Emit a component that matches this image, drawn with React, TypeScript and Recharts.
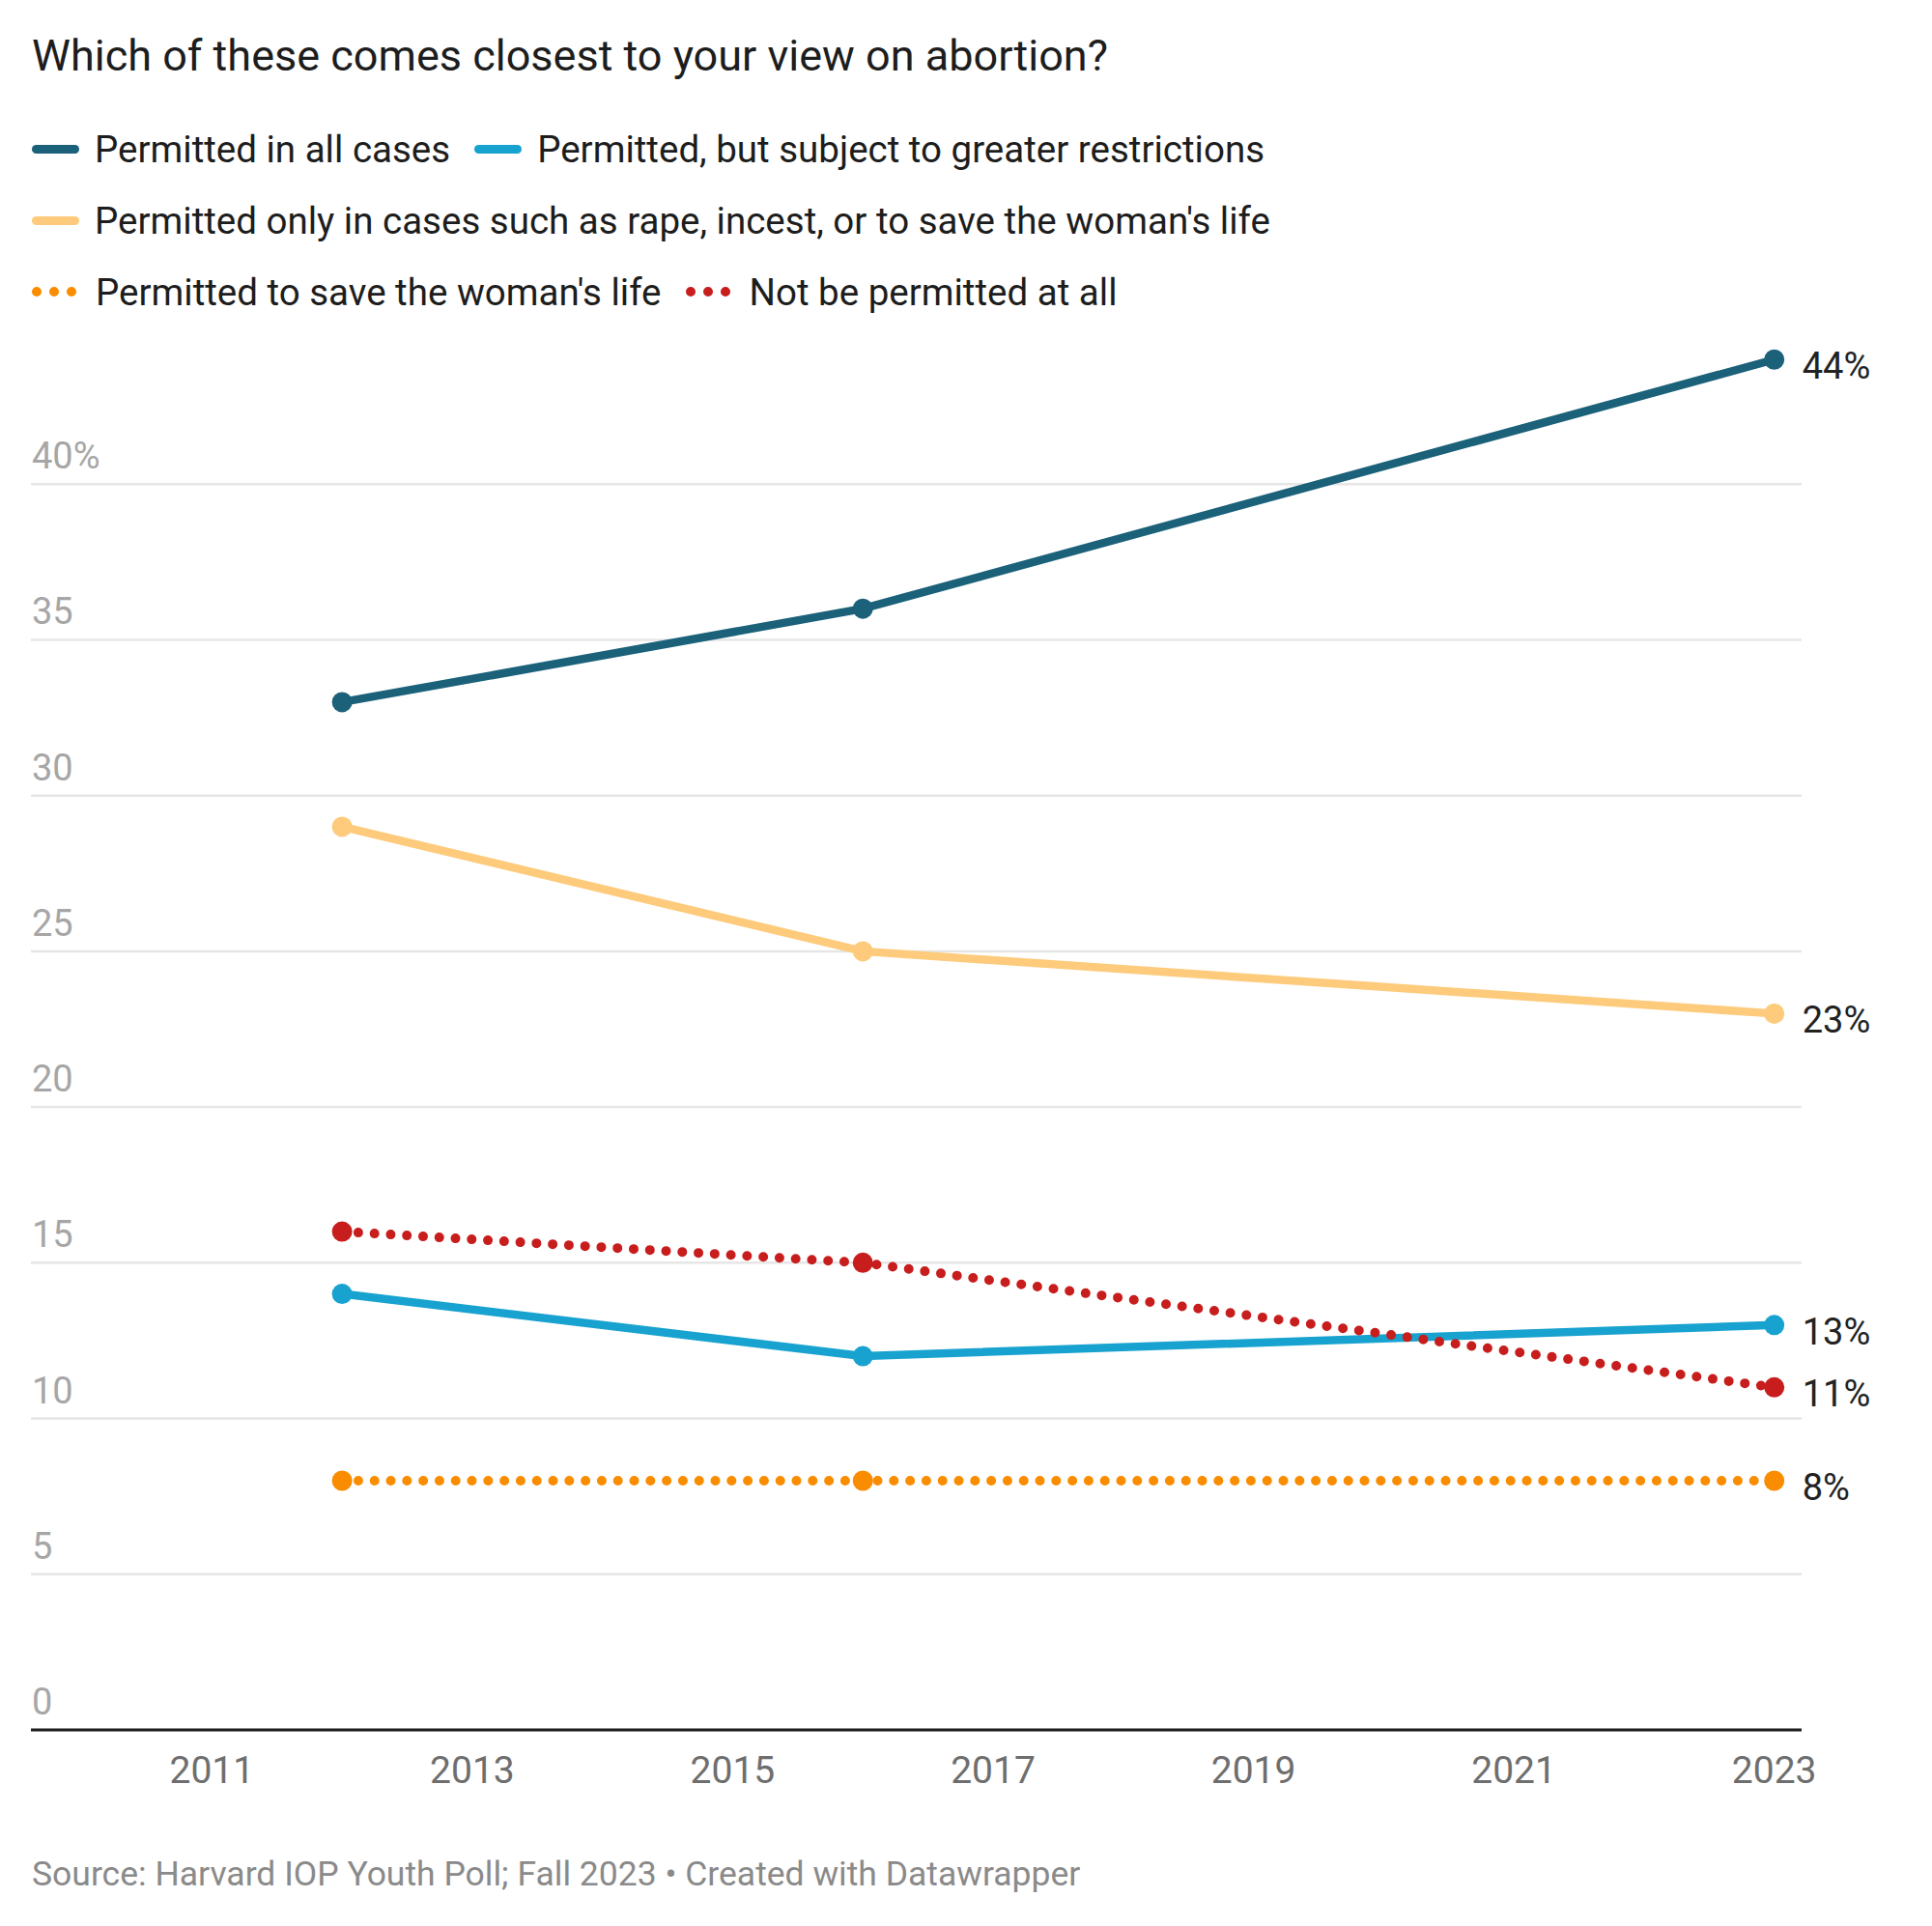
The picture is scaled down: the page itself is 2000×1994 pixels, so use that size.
import { LineChart, Line, XAxis, YAxis, CartesianGrid } from "recharts";

// Survey years and shares (%) per answer
const years = [2012, 2016, 2023];
const allCases = [33, 36, 44];
const greaterRestrictions = [14, 12, 13];
const rapeIncestLife = [29, 25, 23];
const saveLife = [8, 8, 8];
const notPermitted = [16, 15, 11];

const yTicks = [0, 5, 10, 15, 20, 25, 30, 35, 40];
const xTicks = [2011, 2013, 2015, 2017, 2019, 2021, 2023];

const series = [
  { key: "allCases", name: "Permitted in all cases", color: "#1a6179", values: allCases, dotted: false },
  { key: "greater", name: "Permitted, but subject to greater restrictions", color: "#18a2cf", values: greaterRestrictions, dotted: false },
  { key: "rape", name: "Permitted only in cases such as rape, incest, or to save the woman's life", color: "#fdcb7b", values: rapeIncestLife, dotted: false },
  { key: "saveLife", name: "Permitted to save the woman's life", color: "#fa8c00", values: saveLife, dotted: true },
  { key: "notAtAll", name: "Not be permitted at all", color: "#c71e1d", values: notPermitted, dotted: true },
];

const data = years.map((year, i) => {
  const row: any = { year };
  series.forEach((s) => (row[s.key] = s.values[i]));
  return row;
});

const legendRows = [
  [series[0], series[1]],
  [series[2]],
  [series[3], series[4]],
];

const FONT = "Roboto, 'Noto Sans', sans-serif";
const PLOT_LEFT = 31;

const renderYTick = (props: any) => {
  const { y, payload } = props;
  return (
    <text x={PLOT_LEFT + 2} y={y - 16} fill="#a6a6a6" fontSize={38} fontFamily={FONT} textAnchor="start">
      {payload.value === 40 ? "40%" : payload.value}
    </text>
  );
};

const renderXTick = (props: any) => {
  const { x, y, payload } = props;
  return (
    <text x={x} y={y + 47} fill="#6e6e6e" fontSize={39} fontFamily={FONT} textAnchor="middle">
      {payload.value}
    </text>
  );
};

const endLabel = (props: any) => {
  const { x, y, index, value } = props;
  if (index !== years.length - 1) return null;
  return (
    <text x={x + 29} y={y + 20} fill="#222" fontSize={38} fontFamily={FONT} textAnchor="start">
      {value}%
    </text>
  );
};

const makeDot = (color: string) => (props: any) => {
  const { cx, cy, key } = props;
  return <circle key={key} cx={cx} cy={cy} r={10.5} fill={color} />;
};

const Swatch = ({ color, dotted }: any) =>
  dotted ? (
    <svg width={50} height={14} style={{ marginRight: 16, flex: "none" }}>
      <line x1={5} y1={7} x2={45} y2={7} stroke={color} strokeWidth={10} strokeLinecap="round" strokeDasharray="0 18" />
    </svg>
  ) : (
    <div style={{ width: 49, height: 9, borderRadius: 4.5, background: color, marginRight: 16, flex: "none" }} />
  );

export default function App() {
  return (
    <div style={{ position: "absolute", left: 0, top: 0, width: 2000, height: 1994, background: "#fff", fontFamily: FONT }}>
      <div style={{ position: "absolute", left: 33, top: 30, fontSize: 45, color: "#1d1d1d", lineHeight: "56px" }}>
        Which of these comes closest to your view on abortion?
      </div>
      {legendRows.map((row, r) => (
        <div
          key={r}
          style={{ position: "absolute", left: 33, top: 130 + r * 74, height: 48, display: "flex", alignItems: "center" }}
        >
          {row.map((s) => (
            <div key={s.key} style={{ display: "flex", alignItems: "center", marginRight: 25 }}>
              <Swatch color={s.color} dotted={s.dotted} />
              <span style={{ fontSize: 38.5, color: "#1d1d1d", whiteSpace: "nowrap" }}>{s.name}</span>
            </div>
          ))}
        </div>
      ))}
      <div style={{ position: "absolute", left: 0, top: 0 }}>
        <LineChart width={2000} height={1994} data={data} margin={{ top: 340, right: 135, bottom: 123, left: PLOT_LEFT }}>
          <CartesianGrid vertical={false} horizontalValues={yTicks} stroke="#e6e6e6" strokeWidth={2.5} />
          <XAxis
            dataKey="year"
            type="number"
            domain={[2009.61, 2023.21]}
            ticks={xTicks}
            tickLine={false}
            axisLine={{ stroke: "#1d1d1d", strokeWidth: 3 }}
            tick={renderXTick}
            height={80}
          />
          <YAxis
            type="number"
            domain={[0, 45]}
            ticks={yTicks}
            width={1}
            axisLine={false}
            tickLine={false}
            tick={renderYTick}
            interval={0}
          />
          {series.map((s) => (
            <Line
              key={s.key}
              dataKey={s.key}
              name={s.name}
              type="linear"
              stroke={s.color}
              strokeWidth={s.dotted ? 10 : 8.5}
              strokeDasharray={s.dotted ? "0 16.8" : undefined}
              strokeLinecap="round"
              dot={makeDot(s.color)}
              activeDot={false}
              label={endLabel}
              isAnimationActive={false}
            />
          ))}
        </LineChart>
      </div>
      <div style={{ position: "absolute", left: 33, top: 1917, fontSize: 35.5, color: "#8a8a8a", lineHeight: "46px" }}>
        Source: Harvard IOP Youth Poll; Fall 2023 • Created with Datawrapper
      </div>
    </div>
  );
}
